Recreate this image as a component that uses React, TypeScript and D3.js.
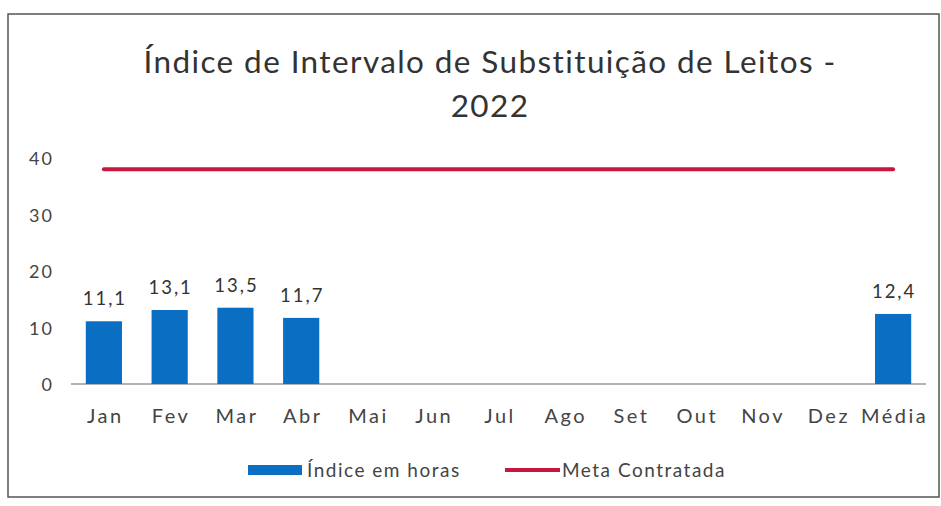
import React from "react";
import * as d3 from "d3";

const categories = ["Jan", "Fev", "Mar", "Abr", "Mai", "Jun", "Jul", "Ago", "Set", "Out", "Nov", "Dez", "Média"];
const indiceValues: (number | null)[] = [11.1, 13.1, 13.5, 11.7, null, null, null, null, null, null, null, null, 12.4];
const metaValues = [38, 38, 38, 38, 38, 38, 38, 38, 38, 38, 38, 38, 38];
const yTicks = [0, 10, 20, 30, 40];
const titleLines = ["Índice de Intervalo de Substituição de Leitos -", "2022"];
const legendLabels = ["Índice em horas", "Meta Contratada"];

const W = 941;
const H = 506;
const FONT = "Lato, 'Open Sans', sans-serif";
const BLUE = "#0A6FC2";
const RED = "#C8163F";

export default function App() {
  const x = d3.scaleBand<string>().domain(categories).range([71, 926]).paddingInner(0.45).paddingOuter(0.225);
  const y = d3.scaleLinear().domain([0, 40]).range([384, 158]);
  const cx = (c: string) => (x(c) ?? 0) + x.bandwidth() / 2;
  const fmt = (v: number) => v.toFixed(1).replace(".", ",");
  const line = d3
    .line<number>()
    .x((_, i) => cx(categories[i]))
    .y((d) => y(d));

  return (
    <svg
      width={W}
      height={H}
      style={{ position: "absolute", left: 0, top: 0, background: "#fff" }}
      fontFamily={FONT}
    >
      <rect x={0} y={0} width={W} height={H} fill="#fff" />
      <rect x={8} y={14} width={931} height={483} fill="none" stroke="#555" strokeWidth={1.5} />

      {titleLines.map((t, i) => (
        <text
          key={i}
          x={490}
          y={73 + i * 44}
          textAnchor="middle"
          fontSize={31.5}
          letterSpacing={1.4}
          fill="#333"
          fontWeight={400}
        >
          {t}
        </text>
      ))}

      {yTicks.map((t) => (
        <text key={t} x={54} y={y(t) + 7} textAnchor="end" fontSize={18} letterSpacing={2} fill="#444">
          {t}
        </text>
      ))}

      <line x1={71} x2={926} y1={y(0)} y2={y(0)} stroke="#999" strokeWidth={1.5} />

      {categories.map((c, i) => {
        const v = indiceValues[i];
        if (v == null) return null;
        return (
          <g key={c}>
            <rect x={x(c)} y={y(v)} width={x.bandwidth()} height={y(0) - y(v)} fill={BLUE} />
            <text x={cx(c) + 1} y={y(v) - 16} textAnchor="middle" fontSize={18.5} letterSpacing={2} fill="#333">
              {fmt(v)}
            </text>
          </g>
        );
      })}

      <path d={line(metaValues) ?? ""} fill="none" stroke={RED} strokeWidth={4} strokeLinecap="round" />

      {categories.map((c) => (
        <text key={c} x={cx(c) + 1.5} y={423} textAnchor="middle" fontSize={20} letterSpacing={2.5} fill="#444">
          {c}
        </text>
      ))}

      <rect x={248} y={465} width={54} height={10} fill={BLUE} />
      <text x={307} y={477} fontSize={19} letterSpacing={1.5} fill="#444">
        {legendLabels[0]}
      </text>
      <line x1={505} x2={560} y1={470} y2={470} stroke={RED} strokeWidth={4} />
      <text x={562} y={477} fontSize={19} letterSpacing={1.5} fill="#444">
        {legendLabels[1]}
      </text>
    </svg>
  );
}
